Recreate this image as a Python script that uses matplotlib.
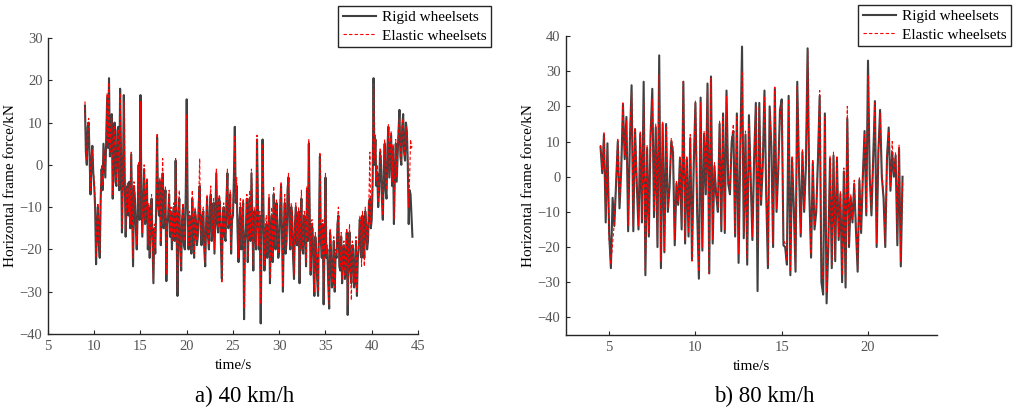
import numpy as np
import matplotlib
matplotlib.use("Agg")
import matplotlib.pyplot as plt

plt.rcParams['font.family'] = ['Liberation Serif', 'DejaVu Serif']

# ---- data (kN) ----
# a) 40 km/h, sampled every 0.1 s from 9.0 s
t0_40, dt_40 = 9.0, 0.1
rigid_40 = [
    14, 3, 0, 9, 10, 2, -7, 1, 4.5, -2,
    -5, -10, -23.5, -14, -10, -19, -22, -8, -1, -6,
    5, 1, -3, 6, 16, 4, 20.5, 2, 8, 12,
    -8, 3, 10, -4, -5, 8, 9, -6, 18, 2,
    -16, -4, 16.5, -3, -17, -8, -5, -12, -4, -15,
    2.5, -10, -24, -5, -8, -15, -20, -11, 0, -13,
    16.5, -6, -17, -9, -1, -14, -12, -4, -20, -10,
    -22, -13, -8, -18, -28, -15, -21, -10, 6.5, -9,
    -12, -4, -19, -8, -2, -15, -12, -6, -27.5, -14,
    -12, -7, -17, -11, -20, -13, -10, -18, 1, -14,
    -31, -12, -8, -20, -25, -13, -10, -19, -20, -6,
    15.5, -10, -20, -12, -15, -21, -8, -16, -22, -11,
    -13, -19, -17, -9, -5, -15, -19, -12, -11, -20,
    -24, -14, -8, -17, -20, -10, -7, -18, -15, -9,
    -21, -12, -2, -14, -16, -8, -9, -19, -27, -12,
    -10, -17, -18, -8, -2, -15, -14, -7, -21, -13,
    -12, -3, 9, -9, -5, -16, -23, -13, -10, -20,
    -16, -9, -36.5, -18, -15, -8, -23, -14, -8, -18,
    -2, -13, -25, -11, -12, -20, 6, -9, -20, -12,
    -37.5, -15, 6, -11, -25, -16, -14, -22, -18, -8,
    -28, -16, -12, -23, -7, -17, -20, -9, -14, -22,
    -20, -10, -5, -16, -30, -15, -9, -21, -18, -6,
    -3, -14, -20, -10, -12, -22, -27, -14, -10, -19,
    -19, -11, -28, -15, -8, -20, -21, -12, -13, -24,
    -6, -18, 5, -12, -26, -14, -15, -24, -31, -17,
    -20, -27, -31, -15, 2, -18, -22, -14, -33, -19,
    -3, -22, -20, -28, -34, -16, -20, -29, -27, -18,
    -30, -21, -22, -14, -12, -24, -25, -17, -28, -20,
    -19, -27, -25, -16, -35.5, -21, -16, -25, -28, -19,
    -20, -29, -27, -18, -31, -22, -20, -13, -14, -22,
    -12, -18, -22, -11, -14, -20, -18, -9, -8, -15,
    -13, -4, 20.5, 0, 6, -5, -2, -10, -6, 3,
    1, -8, -13, -2, 5, -6, -8, 4, 9, -3,
    2, 7, -5, 4, -14, -3, 5, -4, 2, 8,
    13, 2, 0, 9, 12, 3, 1, 10, 8, 0,
    -14, -6, -7, -12, -17,
]
elastic_40 = [
    15, 4, 1, 10, 11, 3, -6, 2, 3.5, -1,
    -4, -9, -22, -13, -9, -18, -21, -7, 0, -5,
    4, 2, -2, 7, 17, 5, 19.5, 3, 9, 11,
    -7, 4, 9, -3, -4, 7, 8.5, -5, 17, 3,
    -15, -3, 15, -2, -16, -7, -4, -11, -5, -14,
    3, -9, -22, -4, -7, -14, -19, -10, 0.5, -12,
    15, -5, -16, -8, 0, -13, -11, -3, -19, -9,
    -21, -12, -7, -17, -27.5, -14, -20, -9, 7.5, -8,
    -11, -3, -18, -7, 1.5, -14, -11, -5, -26, -13,
    -11, -6, -16, -10, -18, -12, -9, -17, 1.5, -13,
    -30, -11, -6, -19, -24, -12, -9, -18, -18, -5,
    12, -9, -19, -11, -14, -20, -6, -15, -21, -10,
    -12, -18, -16, -8, 1.5, -14, -18, -11, -10, -19,
    -23, -13, -7, -16, -19, -9, -5, -17, -14, -8,
    -20, -11, -1, -13, -15, -7, -8, -18, -28, -11,
    -9, -16, -17, -7, -1, -14, -13, -6, -20, -12,
    -11, -2, 7, -8, -3, -15, -22, -12, -8, -19,
    -15, -8, -34, -17, -14, -7, -22, -13, -6, -17,
    -1, -12, -24, -10, -11, -19, 7, -8, -19, -11,
    -33, -14, 5, -10, -24, -15, -12, -21, -17, -7,
    -27, -15, -10, -22, -5, -16, -19, -8, -13, -21,
    -19, -9, -4, -15, -29, -14, -7, -20, -16, -5,
    -2, -13, -19, -9, -11, -21, -26, -13, -9, -18,
    -18, -10, -27, -14, -6, -19, -20, -11, -12, -23,
    -5, -17, 6, -11, -25, -13, -13, -23, -30, -16,
    -19, -26, -30, -14, 3, -17, -21, -13, -32, -18,
    -2, -21, -19, -27, -33, -15, -19, -28, -26, -17,
    -29, -20, -21, -13, -10, -23, -24, -16, -27, -19,
    -18, -26, -24, -15, -33, -20, -14, -24, -32, -18,
    -19, -28, -26, -17, -30, -21, -19, -12, -13, -24,
    -11, -17, -24, -10, -13, -19, -17, -8, 3, -14,
    -11, -3, 19, 1, 7, -4, 0, -9, -4, 4,
    3, -7, -12, -1, 6, -5, -6, 5, 9.5, -2,
    3, 8, -4, 5, -13, -2, 6, -3, 3, 9,
    11, 3, 1, 10, 11, 4, 2, 9, 7, 1,
    -10, -3, 6, 4, 5,
]

# b) 80 km/h, sampled every 0.1 s from 4.5 s
t0_80, dt_80 = 4.5, 0.1
rigid_80 = [
    8.5, 1, 12, -13, 9.5,
    -16, -26, -6, -14, -2, 10, -9, 2, 20.5, 5,
    17, -15.5, 10, 26, -15.5, 13.5, -2, -15, 12, -13,
    27, -28, 8, -17, 12, 25, -11.5, 14, -20, 34.5,
    -26, 15, -21.5, 15, -10, -3, 10, 7, -19.5, -2,
    -8, 5, -15, 27, -19, 5, -17, 11, -23.5, 3,
    21, -10, -29, 22.5, -21, 12, -5, 26.5, -27.5, 28.5,
    -19, 3, -5, -10, 15, -15.5, 18, -16, 24.5, -2,
    -5, 10, 13, -17, 18, -24.5, 8, 37, -17.5, 12,
    -25, 17.5, 0, -18, 5, 21, -32.5, 21, -8, 3,
    24.5, -5, -26, 20, 8.5, -20, 25, -10, 2, 19,
    22, -19.5, -20, -25, 23, -28, 5, -9, -27, 27,
    2, -17, 7, -10, 3, 36.5, -5, -23, 4, -15,
    -10, 5, 23, -30, -33.5, 18, -36, -20, 5, -26,
    6, -24, 5, -18, -5, -30, 1.5, -31.5, 16.5, -20,
    -6, -13, -2, -15, -27, -1, -16, 0, 13, -11,
    33, 0, -11, 5, 21.5, -20, 7, 19, 0, -6,
    -20, 5.5, 14, -4, 7, 0, 6, -19.5, 8, -25.5,
    0,
]
elastic_80 = [
    9, 2, 12.5, -11, 8,
    -18, -25, -19, -13, -1, 11, -8, 4, 21, 6,
    16, -14, 12, 24, -14, 14, -1, -14, 13, -12,
    21, -27, 9, -16, 13, 22, -10, 15, -19, 29,
    -24, 15.5, -21, 14, -9, -1, 11, 8, -18, -1,
    -7, 6, -14, 27.5, -18, 6, -16, 12, -24, 4,
    21.5, -9, -27, 21, -20, 13, -4, 25, -27.5, 28,
    -18, 4, -4, -9, 16, -14, 17, -15, 23, -1,
    -4, 11, 15, -16, 17, -22, 9, 30, -16, 13,
    -23, 15, 1, -17, 6, 20, -20, 20, -7, 4,
    23, -4, -25, 19, 9.5, -19, 25.5, -9, 3, 17,
    21, -18, -19, -24, 22, -27, 6, -8, -26, 26,
    3, -16, 8, -9, 4, 36, -4, -22, 5, -14,
    -9, 6, 24.5, -25, -29, 17, -33, -19, 6, -25,
    7, -23, 6, -17, -4, -28, 2.5, -30, 20, -19,
    -5, -12, -1, -14, -26, 0, -15, 1, 12, -10,
    29, 1, -10, 6, 21, -19, 8, 18, 1, -5,
    -19, 6, 13, -3, 10, 1, 7, -18, 9, -24,
    -1,
]

panels = [
    dict(t0=t0_40, dt=dt_40, rigid=rigid_40, elastic=elastic_40,
         rect=[0.0473, 0.1834, 0.3649, 0.7237], xlim=(5, 45), ylim=(-40, 30),
         xticks=range(5, 46, 5), yticks=range(-40, 31, 10),
         caption="a) 40 km/h", cap_x=245 / 1014, leg_anchor=(491 / 1014, 1 - 6 / 409)),
    dict(t0=t0_80, dt=dt_80, rigid=rigid_80, elastic=elastic_80,
         rect=[0.5582, 0.1809, 0.3659, 0.7310], xlim=(2.5, 24), ylim=(-45, 40),
         xticks=range(5, 21, 5), yticks=range(-40, 41, 10),
         caption="b) 80 km/h", cap_x=764 / 1014, leg_anchor=(1011 / 1014, 1 - 5 / 409)),
]

fig = plt.figure(figsize=(10.14, 4.09), dpi=100)

for p in panels:
    ax = fig.add_axes(p["rect"])
    t = p["t0"] + p["dt"] * np.arange(len(p["rigid"]))
    ax.plot(t, p["rigid"], color="#404040", lw=1.5, label="Rigid wheelsets")
    ax.plot(t, p["elastic"], color="red", lw=0.8, ls=(0, (3, 2)), label="Elastic wheelsets")

    ax.set_xlim(*p["xlim"])
    ax.set_ylim(*p["ylim"])
    ax.set_xticks(list(p["xticks"]))
    ax.set_yticks(list(p["yticks"]))
    for side in ("top", "right"):
        ax.spines[side].set_visible(False)
    for side in ("left", "bottom"):
        ax.spines[side].set_color("#262626")
        ax.spines[side].set_linewidth(1.0)
    ax.tick_params(direction="in", length=3, width=0.8, labelsize=10.5,
                   labelcolor="#555555", color="#262626", pad=4)

    ax.set_xlabel("time/s", fontsize=11)
    ax.xaxis.set_label_coords(0.5, -0.085)
    ax.set_ylabel("Horizontal frame force/kN", fontsize=11)
    ax.yaxis.set_label_coords(-0.084, 0.5)

    leg = fig.legend(loc="upper right", bbox_to_anchor=p["leg_anchor"],
                     fontsize=11, fancybox=False, framealpha=1,
                     edgecolor="#262626", handlelength=2.2, borderpad=0.3,
                     labelspacing=0.3, handletextpad=0.35, borderaxespad=0,
                     handles=ax.get_lines())
    leg.get_frame().set_linewidth(1.0)

    fig.text(p["cap_x"], 1 - 396 / 409, p["caption"], ha="center", va="center", fontsize=16.5)

fig.savefig("out.png", dpi=100)
